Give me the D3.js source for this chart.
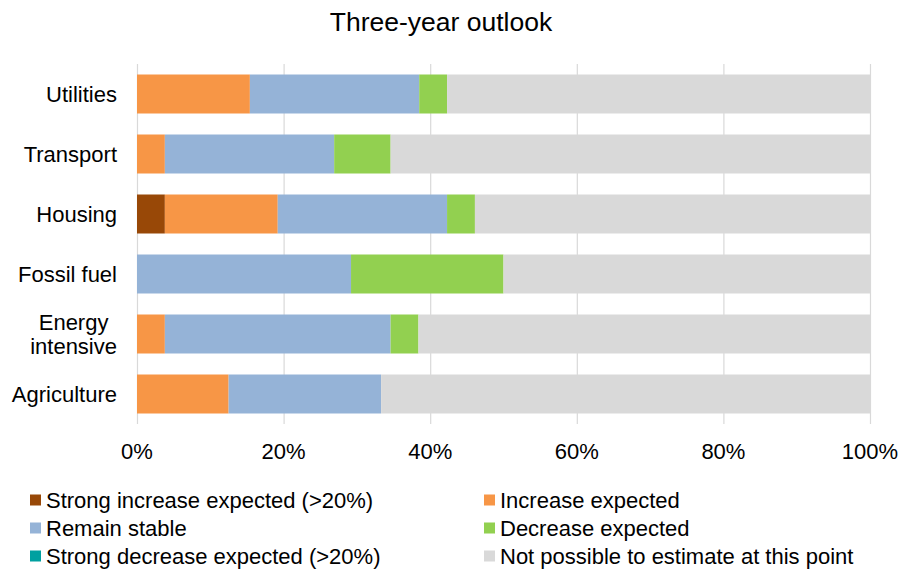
<!DOCTYPE html>
<html>
<head>
<meta charset="utf-8">
<script src="https://cdn.jsdelivr.net/npm/d3@7"></script>
<style>
  body { margin: 0; background: #fff; }
  text { font-family: "Liberation Sans", Arial, sans-serif; fill: #000; }
</style>
</head>
<body>
<svg id="chart" width="903" height="572"></svg>
<script>
/* Data (percent of respondents) */
let categories = ["Utilities", "Transport", "Housing", "Fossil fuel", "Energy intensive", "Agriculture"];
let seriesNames = ["Strong increase expected (>20%)", "Increase expected", "Remain stable",
    "Decrease expected", "Strong decrease expected (>20%)", "Not possible to estimate at this point"];
let strongIncrease = [0, 0, 3.8, 0, 0, 0];
let increase = [15.4, 3.8, 15.4, 0, 3.8, 12.5];
let stable = [23.1, 23.1, 23.1, 29.2, 30.8, 20.8];
let decrease = [3.8, 7.7, 3.8, 20.8, 3.8, 0];
let strongDecrease = [0, 0, 0, 0, 0, 0];
let notPossible = [57.7, 65.4, 53.9, 50.0, 61.6, 66.7];
let ticks = [0, 20, 40, 60, 80, 100];
let colors = ["#984807", "#F79646", "#95B3D7", "#92D050", "#00A0A0", "#D9D9D9"];

let seriesValues = [strongIncrease, increase, stable, decrease, strongDecrease, notPossible];

// build rows for d3.stack
let rows = categories.map(function (c, i) {
    let r = { category: c };
    seriesNames.forEach(function (s, j) { r[s] = seriesValues[j][i]; });
    return r;
});

let svg = d3.select("#chart");

let x = d3.scaleLinear().domain([0, 100]).range([137, 870]);
let y = d3.scaleBand().domain(categories).range([64, 424])
    .paddingInner(0.35).paddingOuter(0.175);
let color = d3.scaleOrdinal().domain(seriesNames).range(colors);

// title
svg.append("text")
    .attr("x", 441)
    .attr("y", 31)
    .attr("text-anchor", "middle")
    .style("font-size", "26.5px")
    .text("Three-year outlook");

// gridlines
svg.append("g")
    .selectAll("line")
    .data(ticks)
    .enter().append("line")
    .attr("x1", d => x(d) + 0.5)
    .attr("x2", d => x(d) + 0.5)
    .attr("y1", 64)
    .attr("y2", 424)
    .attr("stroke", "#d9d9d9")
    .attr("stroke-width", 1.2);

// bars
let stacked = d3.stack().keys(seriesNames)(rows);
svg.append("g")
    .selectAll("g")
    .data(stacked)
    .enter().append("g")
    .attr("fill", d => color(d.key))
    .selectAll("rect")
    .data(d => d)
    .enter().append("rect")
    .attr("x", d => x(d[0]))
    .attr("y", d => y(d.data.category))
    .attr("width", d => x(d[1]) - x(d[0]))
    .attr("height", y.bandwidth());

// x tick labels
svg.append("g")
    .selectAll("text")
    .data(ticks)
    .enter().append("text")
    .attr("x", d => x(d))
    .attr("y", 459)
    .attr("text-anchor", "middle")
    .style("font-size", "22px")
    .text(d => d + "%");

// category labels (multi-line ones are centred inside a right-aligned block)
let catLabels = svg.append("g")
    .selectAll("text")
    .data(categories)
    .enter().append("text")
    .attr("text-anchor", "end")
    .style("font-size", "22px")
    .attr("transform", d => "translate(117," + (y(d) + y.bandwidth() / 2) + ")");

catLabels.each(function (d) {
    let words = d === "Energy intensive" ? ["Energy", "intensive"] : [d];
    let t = d3.select(this);
    let spans = words.map(function (w, i) {
        return t.append("tspan")
            .attr("x", 0)
            .attr("y", 8 + (i - (words.length - 1) / 2) * 24)
            .text(w);
    });
    if (words.length > 1) {
        let maxW = d3.max(spans, s => s.node().getComputedTextLength());
        t.attr("text-anchor", "middle");
        spans.forEach(s => s.attr("x", -maxW / 2));
    }
});

// legend
let legend = svg.append("g")
    .selectAll("g")
    .data(seriesNames)
    .enter().append("g")
    .attr("transform", function (d, i) {
        let col = i % 2, row = Math.floor(i / 2);
        return "translate(" + (col === 0 ? 30 : 484) + "," + (500 + row * 28) + ")";
    });
legend.append("rect")
    .attr("x", 0)
    .attr("y", -5.5)
    .attr("width", 11)
    .attr("height", 11)
    .attr("fill", d => color(d));
legend.append("text")
    .attr("x", 16)
    .attr("y", 8)
    .style("font-size", "22px")
    .text(d => d);
</script>
</body>
</html>
